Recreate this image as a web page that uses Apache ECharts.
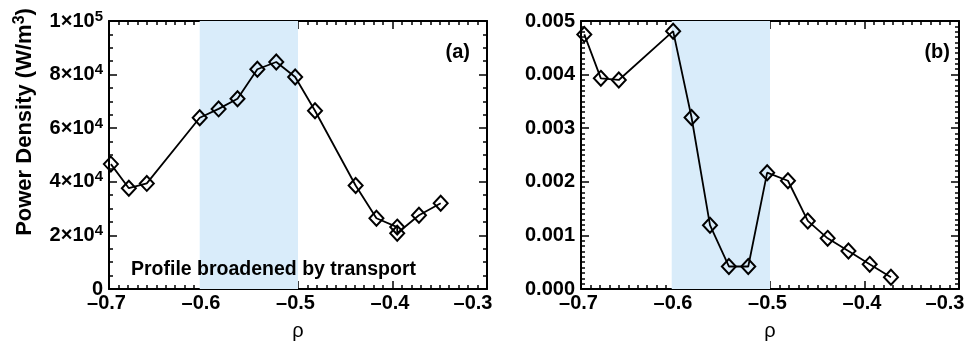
<!DOCTYPE html>
<html>
<head>
<meta charset="utf-8">
<script src="https://cdn.jsdelivr.net/npm/echarts@6/dist/echarts.min.js"></script>
<style>
  html, body { margin: 0; padding: 0; background: #fff; }
  #main { width: 967px; height: 344px; }
</style>
</head>
<body>
<div id="main"></div>
<script>
'use strict'
// panel (a): power density vs rho
var rhoA = [-0.698, -0.679, -0.660, -0.604, -0.584, -0.564, -0.543, -0.523, -0.503, -0.482, -0.439, -0.417, -0.395, -0.395, -0.372, -0.349]
var powerA = [46600, 37600, 39400, 63900, 67200, 71000, 82000, 84700, 79100, 66500, 38600, 26400, 23100, 20800, 27500, 32000]
// panel (b)
var rhoB = [-0.6965, -0.679, -0.660, -0.6025, -0.583, -0.5635, -0.5435, -0.523, -0.503, -0.481, -0.460, -0.439, -0.417, -0.3945, -0.372]
var powerB = [0.00475, 0.00393, 0.0039, 0.00481, 0.0032, 0.00119, 0.00042, 0.00042, 0.00217, 0.00202, 0.00127, 0.000945, 0.00071, 0.00046, 0.00022]
// shaded band
var band = [-0.604, -0.5]

var xTicks = [-0.7, -0.6, -0.5, -0.4, -0.3]
var xTickText = ['\u20130.7', '\u20130.6', '\u20130.5', '\u20130.4', '\u20130.3']
var yTicksA = [0, 20000, 40000, 60000, 80000, 100000]
var yTickTextA = ['0', '2\u00d710^4', '4\u00d710^4', '6\u00d710^4', '8\u00d710^4', '1\u00d710^5']
var yTicksB = [0, 0.001, 0.002, 0.003, 0.004, 0.005]
var yTickTextB = ['0.000', '0.001', '0.002', '0.003', '0.004', '0.005']

var FONT = '"Liberation Sans", Arial, Helvetica, sans-serif'

function lookup (ticks, texts, v, style) {
  for (var i = 0; i < ticks.length; i++) {
    var tol = Math.abs(ticks[ticks.length - 1] - ticks[0]) * 1e-6
    if (Math.abs(v - ticks[i]) <= tol) {
      var t = texts[i]
      var k = t.indexOf('^')
      if (k >= 0) return '{b|' + t.slice(0, k) + '}{s|' + t.slice(k + 1) + '}'
      // the last x label sits left of its tick, as in the original
      if (style === 'x') return (i === ticks.length - 1 ? '{e|' : '{x|') + t + '}'
      return '{b|' + t + '}'
    }
  }
  return ''
}

var richLabel = {
  b: { fontFamily: FONT, fontWeight: 'bold', fontSize: 20, color: '#000' },
  x: { fontFamily: FONT, fontWeight: 'bold', fontSize: 20, color: '#000', padding: [0, 5, 0, 0] },
  e: { fontFamily: FONT, fontWeight: 'bold', fontSize: 20, color: '#000', padding: [0, 28, 0, 0] },
  s: { fontFamily: FONT, fontWeight: 'bold', fontSize: 15, color: '#000', verticalAlign: 'bottom', padding: [0, 0, 9, 0] }
}

function xAxes (grid) {
  var base = {
    type: 'value',
    gridIndex: grid,
    min: -0.7,
    max: -0.3,
    interval: 0.1,
    axisLine: { show: true, onZero: false, lineStyle: { color: '#000', width: 2 } },
    axisTick: { show: true, inside: true, length: 8, lineStyle: { color: '#000', width: 1.5 } },
    minorTick: { show: true, splitNumber: 10, length: 4, lineStyle: { color: '#000', width: 1.5 } },
    splitLine: { show: false }
  }
  var bottom = Object.assign({}, base, {
    position: 'bottom',
    name: '\u03c1',
    nameLocation: 'middle',
    nameGap: 32,
    nameMoveOverlap: false,
    nameTextStyle: { fontFamily: FONT, fontSize: 20, color: '#000' },
    axisLabel: {
      margin: 4,
      hideOverlap: false,
      showMaxLabel: true,
      formatter: function (v) { return lookup(xTicks, xTickText, v, 'x') },
      rich: richLabel
    }
  })
  var top = Object.assign({}, base, { position: 'top', axisLabel: { show: false } })
  return [bottom, top]
}

function yAxes (grid, max, interval, minorSplit, ticks, texts) {
  var base = {
    type: 'value',
    gridIndex: grid,
    min: 0,
    max: max,
    interval: interval,
    axisLine: { show: true, onZero: false, lineStyle: { color: '#000', width: 2 } },
    axisTick: { show: true, inside: true, length: 8, lineStyle: { color: '#000', width: 1.5 } },
    minorTick: { show: true, splitNumber: minorSplit, length: 4, lineStyle: { color: '#000', width: 1.5 } },
    splitLine: { show: false }
  }
  var left = Object.assign({}, base, {
    position: 'left',
    axisLabel: {
      margin: 6,
      formatter: function (v) { return lookup(ticks, texts, v, 'y') },
      rich: richLabel
    }
  })
  var right = Object.assign({}, base, { position: 'right', axisLabel: { show: false } })
  return [left, right]
}

function seriesFor (idx, xs, ys) {
  var data = xs.map(function (x, i) { return [x, ys[i]] })
  return {
    type: 'line',
    xAxisIndex: idx * 2,
    yAxisIndex: idx * 2,
    data: data,
    symbol: 'diamond',
    symbolSize: [14, 15],
    lineStyle: { color: '#000', width: 1.8 },
    itemStyle: { color: 'rgba(0,0,0,0)', borderColor: '#000', borderWidth: 2 },
    markArea: {
      silent: true,
      itemStyle: { color: '#d9ecfa' },
      data: [[{ xAxis: band[0] }, { xAxis: band[1] }]]
    },
    z: 3
  }
}

var chart = echarts.init(document.getElementById('main'), null, { renderer: 'canvas' })
chart.setOption({
  animation: false,
  backgroundColor: '#fff',
  grid: [
    { left: 109, top: 21, width: 378, height: 268, outerBoundsMode: 'none', containLabel: false },
    { left: 581, top: 21, width: 378, height: 268, outerBoundsMode: 'none', containLabel: false }
  ],
  xAxis: xAxes(0).concat(xAxes(1)),
  yAxis: yAxes(0, 100000, 20000, 4, yTicksA, yTickTextA).concat(yAxes(1, 0.005, 0.001, 10, yTicksB, yTickTextB)),
  series: [seriesFor(0, rhoA, powerA), seriesFor(1, rhoB, powerB)],
  graphic: [
    {
      type: 'text',
      x: 25,
      y: 122,
      rotation: Math.PI / 2,
      style: {
        text: 'Power Density (W/m{s|3})',
        fontFamily: FONT,
        fontWeight: 'bold',
        fontSize: 22,
        fill: '#000',
        align: 'center',
        verticalAlign: 'middle',
        rich: {
          s: { fontFamily: FONT, fontWeight: 'bold', fontSize: 16, fill: '#000', verticalAlign: 'bottom', padding: [0, 0, 10, 0] }
        }
      }
    },
    {
      type: 'text', x: 470, y: 52,
      style: { text: '(a)', fontFamily: FONT, fontWeight: 'bold', fontSize: 20, fill: '#000', align: 'right', verticalAlign: 'middle' }
    },
    {
      type: 'text', x: 950, y: 52,
      style: { text: '(b)', fontFamily: FONT, fontWeight: 'bold', fontSize: 20, fill: '#000', align: 'right', verticalAlign: 'middle' }
    },
    {
      type: 'text', x: 131, y: 270, z: 10,
      style: { text: 'Profile broadened by transport', fontFamily: FONT, fontWeight: 'bold', fontSize: 19.5, fill: '#000', align: 'left', verticalAlign: 'middle' }
    }
  ]
})
</script>
</body>
</html>
